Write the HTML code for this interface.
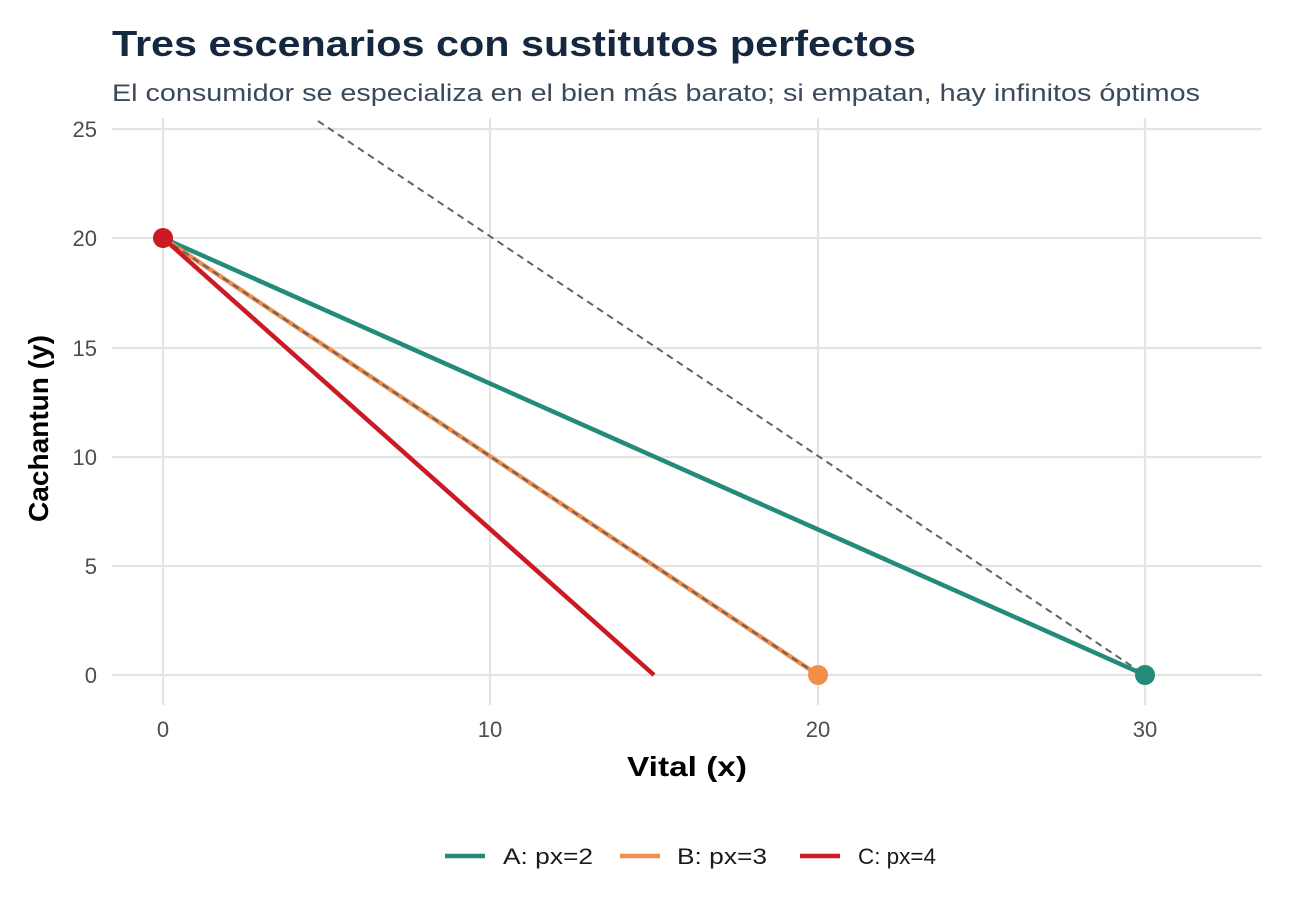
<!DOCTYPE html>
<html><head><meta charset="utf-8"><style>body{margin:0;background:#fff}svg{display:block}</style></head><body>
<svg width="1305" height="921" xmlns="http://www.w3.org/2000/svg" font-family="Liberation Sans, Arial, sans-serif">
<rect width="1305" height="921" fill="#fff"/>
<text x="112" y="56" font-size="36" font-weight="bold" fill="#16283f" textLength="804" lengthAdjust="spacingAndGlyphs">Tres escenarios con sustitutos perfectos</text>
<text x="112" y="101" font-size="24" fill="#3b4a5a" textLength="1088" lengthAdjust="spacingAndGlyphs">El consumidor se especializa en el bien más barato; si empatan, hay infinitos óptimos</text>
<g stroke="#e4e4e4" stroke-width="2.2">
<line x1="112" y1="129" x2="1262" y2="129"/><line x1="112" y1="238" x2="1262" y2="238"/><line x1="112" y1="348" x2="1262" y2="348"/><line x1="112" y1="457" x2="1262" y2="457"/><line x1="112" y1="566" x2="1262" y2="566"/><line x1="112" y1="675" x2="1262" y2="675"/>
<line x1="163" y1="118" x2="163" y2="705"/><line x1="490" y1="118" x2="490" y2="705"/><line x1="818" y1="118" x2="818" y2="705"/><line x1="1145" y1="118" x2="1145" y2="705"/>
</g>
<g font-size="22" fill="#4d4d4d" text-anchor="end">
<text x="97" y="137">25</text><text x="97" y="246">20</text><text x="97" y="356">15</text><text x="97" y="465">10</text><text x="97" y="574">5</text><text x="97" y="683">0</text>
</g>
<g font-size="22" fill="#4d4d4d" text-anchor="middle">
<text x="163" y="737">0</text><text x="490" y="737">10</text><text x="818" y="737">20</text><text x="1145" y="737">30</text>
</g>
<text x="627" y="776" font-size="28" font-weight="bold" textLength="120" lengthAdjust="spacingAndGlyphs">Vital (x)</text>
<text transform="translate(48,522) rotate(-90)" font-size="28" font-weight="bold" textLength="187" lengthAdjust="spacingAndGlyphs">Cachantun (y)</text>
<line x1="318" y1="121" x2="1145" y2="675" stroke="#5f6368" stroke-width="2" stroke-dasharray="7,5"/>
<line x1="163" y1="238" x2="1145" y2="675" stroke="#238b7a" stroke-width="4.5"/>
<line x1="163" y1="238" x2="818" y2="675" stroke="#f28e4b" stroke-width="4.5"/>
<line x1="163" y1="238" x2="818" y2="675" stroke="#5f6368" stroke-width="2" stroke-dasharray="7,5"/>
<line x1="163" y1="238" x2="654" y2="675" stroke="#cb1a24" stroke-width="4.5"/>
<circle cx="1145" cy="675" r="10" fill="#238b7a"/>
<circle cx="818" cy="675" r="10" fill="#f28e4b"/>
<circle cx="163" cy="238" r="10" fill="#cb1a24"/>
<g font-size="22" fill="#1a1a1a">
<line x1="445" y1="856" x2="485" y2="856" stroke="#238b7a" stroke-width="4.5"/><text x="503" y="864" textLength="90" lengthAdjust="spacingAndGlyphs">A: px=2</text>
<line x1="620" y1="856" x2="660" y2="856" stroke="#f28e4b" stroke-width="4.5"/><text x="677" y="864" textLength="90" lengthAdjust="spacingAndGlyphs">B: px=3</text>
<line x1="800" y1="856" x2="840" y2="856" stroke="#cb1a24" stroke-width="4.5"/><text x="858" y="864" textLength="78" lengthAdjust="spacingAndGlyphs">C: px=4</text>
</g>
</svg>
</body></html>
